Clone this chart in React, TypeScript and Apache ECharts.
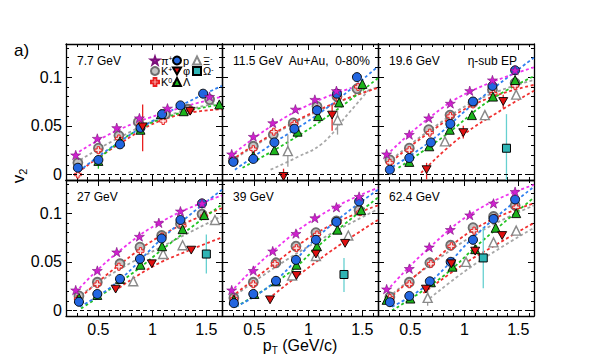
import React, { useEffect, useRef } from 'react';
import * as echarts from 'echarts';

// ---------- data ----------
const energies = ['7.7 GeV', '11.5 GeV', '19.6 GeV', '27 GeV', '39 GeV', '62.4 GeV'];
const panelNotes = ['', 'Au+Au,  0-80%', 'η-sub EP', '', '', ''];
const xMajorTicks = [0.5, 1, 1.5];
const yMajorTicks = [0, 0.05, 0.1];

const piV2 = [
  [[0.29, 0.020], [0.49, 0.037], [0.67, 0.048], [0.88, 0.058], [1.14, 0.068], [1.53, 0.080]],
  [[0.29, 0.021], [0.49, 0.039], [0.67, 0.053], [0.88, 0.067], [1.06, 0.077], [1.26, 0.086]],
  [[0.28, 0.021], [0.49, 0.041], [0.67, 0.058], [0.87, 0.073], [1.05, 0.086], [1.26, 0.097], [1.47, 0.107]],
  [[0.29, 0.021], [0.49, 0.041], [0.67, 0.060], [0.88, 0.076], [1.06, 0.090], [1.26, 0.102], [1.46, 0.110]],
  [[0.29, 0.021], [0.49, 0.041], [0.67, 0.061], [0.885, 0.079], [1.06, 0.095], [1.26, 0.106], [1.47, 0.117]],
  [[0.28, 0.022], [0.49, 0.043], [0.675, 0.065], [0.87, 0.083], [1.05, 0.098], [1.27, 0.110], [1.47, 0.122]],
];
const kPlusV2 = [
  [[0.31, 0.012], [0.50, 0.027], [0.69, 0.040], [0.87, 0.054], [1.12, 0.062], [1.33, 0.067], [1.53, 0.077]],
  [[0.305, 0.014], [0.49, 0.029], [0.675, 0.041], [0.86, 0.053], [1.08, 0.070], [1.265, 0.080], [1.45, 0.088]],
  [[0.31, 0.015], [0.49, 0.027], [0.67, 0.046], [0.867, 0.061], [1.08, 0.074], [1.26, 0.087], [1.47, 0.094]],
  [[0.32, 0.015], [0.49, 0.029], [0.70, 0.048], [0.885, 0.065], [1.086, 0.077], [1.26, 0.089], [1.46, 0.099]],
  [[0.31, 0.013], [0.49, 0.029], [0.70, 0.049], [0.885, 0.066], [1.07, 0.080], [1.26, 0.092], [1.47, 0.103]],
  [[0.31, 0.014], [0.49, 0.029], [0.68, 0.049], [0.873, 0.067], [1.08, 0.085], [1.27, 0.0965], [1.47, 0.108]],
];
const k0sV2 = [
  [[0.31, 0.000], [0.50, 0.025], [0.69, 0.037], [0.89, 0.051], [1.10, 0.055], [1.35, 0.066]],
  [[0.31, 0.013], [0.49, 0.026], [0.68, 0.044], [0.87, 0.052], [1.08, 0.067], [1.27, 0.079], [1.46, 0.090]],
  [[0.31, 0.012], [0.49, 0.025], [0.68, 0.043], [0.87, 0.060], [1.08, 0.072], [1.27, 0.083], [1.47, 0.091]],
  [[0.31, 0.012], [0.49, 0.027], [0.69, 0.045], [0.89, 0.061], [1.09, 0.076], [1.28, 0.087], [1.48, 0.097]],
  [[0.31, 0.012], [0.49, 0.027], [0.69, 0.048], [0.89, 0.064], [1.08, 0.078], [1.27, 0.090], [1.48, 0.101]],
  [[0.31, 0.013], [0.49, 0.027], [0.69, 0.048], [0.88, 0.066], [1.09, 0.082], [1.28, 0.095], [1.48, 0.106]],
];
const protonV2 = [
  [[0.31, 0.007], [0.50, 0.015], [0.70, 0.031], [0.89, 0.048], [1.09, 0.062], [1.26, 0.071], [1.47, 0.083]],
  [[0.305, 0.013], [0.49, 0.016], [0.685, 0.033], [0.87, 0.047], [1.08, 0.066], [1.265, 0.083], [1.45, 0.100]],
  [[0.31, 0.005], [0.49, 0.017], [0.69, 0.033], [0.87, 0.052], [1.08, 0.075], [1.26, 0.091], [1.47, 0.107]],
  [[0.32, 0.009], [0.49, 0.017], [0.70, 0.0325], [0.885, 0.053], [1.086, 0.074], [1.26, 0.093], [1.46, 0.110]],
  [[0.31, 0.0076], [0.49, 0.017], [0.70, 0.0305], [0.885, 0.052], [1.07, 0.0726], [1.26, 0.091], [1.47, 0.112]],
  [[0.31, 0.0086], [0.49, 0.015], [0.68, 0.030], [0.873, 0.050], [1.08, 0.0726], [1.27, 0.094], [1.47, 0.114]],
];
const lambdaV2 = [
  [[0.50, 0.014], [0.70, 0.034], [0.89, 0.046], [1.08, 0.062], [1.29, 0.065], [1.62, 0.072]],
  [[0.49, 0.019], [0.685, 0.025], [0.90, 0.044], [1.09, 0.060], [1.285, 0.074], [1.50, 0.093]],
  [[0.49, 0.013], [0.675, 0.029], [0.865, 0.046], [1.07, 0.061], [1.265, 0.080], [1.47, 0.097]],
  [[0.32, 0.013], [0.49, 0.016], [0.70, 0.0325], [0.89, 0.047], [1.09, 0.066], [1.28, 0.0835], [1.48, 0.098]],
  [[0.31, 0.011], [0.50, 0.017], [0.70, 0.030], [0.89, 0.047], [1.08, 0.066], [1.27, 0.083], [1.49, 0.103]],
  [[0.28, 0.011], [0.50, 0.0123], [0.69, 0.029], [0.89, 0.045], [1.10, 0.063], [1.29, 0.085], [1.48, 0.100]],
];
const phiV2 = [
  [[0.91, 0.049], [1.35, 0.065]],
  [[0.77, -0.002], [1.22, 0.061]],
  [[0.65, 0.005], [0.99, 0.043], [1.36, 0.075]],
  [[0.66, 0.022], [0.995, 0.048], [1.36, 0.062]],
  [[0.645, 0.011], [0.89, 0.036], [1.07, 0.058], [1.34, 0.069]],
  [[0.644, 0.022], [0.88, 0.048], [1.10, 0.061], [1.35, 0.077]],
];
const xiV2 = [
  [],
  [[0.81, 0.024], [1.27, 0.056]],
  [[0.82, 0.034], [1.19, 0.061], [1.48, 0.082]],
  [[0.823, 0.030], [1.10, 0.058], [1.28, 0.067], [1.58, 0.093]],
  [[0.85, 0.036], [1.07, 0.056], [1.37, 0.077]],
  [[0.66, 0.013], [1.015, 0.050], [1.27, 0.070], [1.48, 0.082]],
];
const omegaV2 = [
  [],
  [],
  [[1.39, 0.027]],
  [[1.50, 0.058]],
  [[1.33, 0.037]],
  [[1.175, 0.054]],
];

// error bars: [pT, low, high]
const phiErr = [
  [[0.91, 0.024, 0.072]],
  [[0.77, -0.010, 0.006], [1.22, 0.045, 0.072]],
  [[0.65, -0.005, 0.012], [0.99, 0.037, 0.050], [1.36, 0.068, 0.082]],
  [],
  [],
  [],
];
const xiErr = [
  [],
  [[0.81, 0.008, 0.041], [1.27, 0.041, 0.066]],
  [],
  [],
  [],
  [[0.66, 0.005, 0.020]],
];
const omegaErr = [
  [],
  [],
  [[1.39, -0.010, 0.062]],
  [[1.50, 0.038, 0.078]],
  [[1.33, 0.019, 0.054]],
  [[1.175, 0.023, 0.085]],
];
const lambdaErr = [
  [[0.50, 0.006, 0.020]],
  [],
  [],
  [],
  [],
  [],
];

// fit curves
const fitPi = [
  [[0.28, 0.0205], [0.66, 0.0445], [1.13, 0.064], [1.645, 0.080]],
  [[0.28, 0.019], [0.66, 0.050], [1.05, 0.074], [1.40, 0.089]],
  [[0.28, 0.020], [0.66, 0.057], [1.05, 0.085], [1.645, 0.110]],
  [[0.29, 0.019], [0.66, 0.058], [1.13, 0.094], [1.645, 0.118]],
  [[0.28, 0.019], [0.66, 0.060], [1.13, 0.099], [1.645, 0.126]],
  [[0.28, 0.020], [0.66, 0.063], [1.13, 0.104], [1.645, 0.129]],
];
const fitK = [
  [[0.29, 0.012], [0.66, 0.036], [1.13, 0.060], [1.645, 0.074]],
  [[0.29, 0.014], [0.66, 0.040], [1.13, 0.067], [1.645, 0.090]],
  [[0.29, 0.012], [0.66, 0.044], [1.13, 0.077], [1.645, 0.097]],
  [[0.30, 0.013], [0.66, 0.040], [1.13, 0.068], [1.645, 0.097]],
  [[0.29, 0.013], [0.66, 0.042], [1.13, 0.074], [1.645, 0.104]],
  [[0.30, 0.014], [0.66, 0.045], [1.13, 0.080], [1.645, 0.108]],
];
const fitK0s = [
  [[0.31, 0.002], [0.66, 0.029], [1.13, 0.0575], [1.645, 0.067]],
  [[0.29, 0.015], [0.66, 0.041], [1.13, 0.068], [1.645, 0.089]],
  [[0.29, 0.010], [0.66, 0.042], [1.13, 0.074], [1.645, 0.092]],
  [[0.30, 0.010], [0.66, 0.044], [1.13, 0.080], [1.645, 0.105]],
  [[0.29, 0.014], [0.66, 0.046], [1.13, 0.083], [1.645, 0.108]],
  [[0.30, 0.012], [0.66, 0.046], [1.13, 0.086], [1.645, 0.110]],
];
const fitProton = [
  [[0.32, 0.0034], [0.66, 0.031], [1.13, 0.063], [1.645, 0.091]],
  [[0.32, 0.005], [0.66, 0.031], [1.13, 0.065], [1.645, 0.111]],
  [[0.29, 0.005], [0.66, 0.032], [1.08, 0.072], [1.645, 0.120]],
  [[0.33, 0.004], [0.66, 0.028], [1.13, 0.078], [1.645, 0.124]],
  [[0.33, 0.004], [0.66, 0.027], [1.13, 0.080], [1.645, 0.124]],
  [[0.33, 0.004], [0.66, 0.027], [1.13, 0.080], [1.645, 0.127]],
];
const fitLambda = [
  [[0.48, 0.0137], [0.82, 0.043], [1.22, 0.062], [1.645, 0.072]],
  [[0.39, 0.007], [0.82, 0.034], [1.22, 0.063], [1.645, 0.099]],
  [[0.39, 0.007], [0.82, 0.040], [1.22, 0.075], [1.645, 0.101]],
  [[0.34, 0.002], [0.80, 0.037], [1.13, 0.066], [1.645, 0.109]],
  [[0.33, 0.004], [0.80, 0.037], [1.13, 0.070], [1.645, 0.116]],
  [[0.33, 0.000], [0.80, 0.035], [1.13, 0.068], [1.645, 0.116]],
];
const fitPhi = [
  [],
  [],
  [[0.60, 0.0017], [0.97, 0.039], [1.37, 0.068], [1.645, 0.086]],
  [[0.65, 0.020], [1.00, 0.045], [1.30, 0.060], [1.645, 0.075]],
  [[0.63, 0.012], [1.00, 0.044], [1.30, 0.068], [1.645, 0.093]],
  [[0.62, 0.018], [1.00, 0.048], [1.30, 0.068], [1.645, 0.090]],
];
const fitXi = [
  [],
  [[0.65, 0.005], [0.90, 0.018], [1.13, 0.032], [1.35, 0.060], [1.56, 0.087]],
  [],
  [],
  [],
  [[0.64, 0.009], [1.00, 0.040], [1.30, 0.062], [1.645, 0.085]],
];

// ---------- layout / style ----------
const X_MIN = 0.2;
const X_MAX = 1.645;
const Y_MIN = -0.0056;
const Y_MAX = 0.134;
const GRID_W = 156;
const GRID_H = 136;
const COL_LEFT = [66, 222, 378];
const ROW_TOP = [44, 180];
const FONT = 'Liberation Sans, Arial, Helvetica, sans-serif';

const STAR = 'path://M50,0 L61.8,35.5 L99,35.5 L69,57.5 L80.5,93 L50,71 L19.5,93 L31,57.5 L1,35.5 L38.2,35.5 Z';
const PLUS = 'path://M33,0 L67,0 L67,33 L100,33 L100,67 L67,67 L67,100 L33,100 L33,67 L0,67 L0,33 L33,33 Z';
const DOWN = 'path://M0,0 L100,0 L50,87 Z';

const xMinorTicks: number[] = [];
for (let k = 3; k <= 16; k++) xMinorTicks.push(Math.round(k * 10) / 100);
const yMinorTicks: number[] = [];
for (let k = 0; k <= 13; k++) yMinorTicks.push(Math.round(k * 10) / 1000);

const speciesDefs = [
  { name: 'Ξ-', data: xiV2, symbol: 'triangle', size: 9, color: '#ffffff', border: '#8a8a8a', bw: 1.4 },
  { name: 'Ω-', data: omegaV2, symbol: 'rect', size: 8, color: '#2fb5b5', border: '#000000', bw: 1 },
  { name: 'K+', data: kPlusV2, symbol: 'circle', size: 9, color: '#c4c4c4', border: '#6e6e6e', bw: 1.8 },
  { name: 'K0s', data: k0sV2, symbol: PLUS, size: 7, color: 'rgba(255,235,235,0.85)', border: '#e82020', bw: 1 },
  { name: 'Λ', data: lambdaV2, symbol: 'triangle', size: 9, color: '#1cb41c', border: '#000000', bw: 0.9 },
  { name: 'p', data: protonV2, symbol: 'circle', size: 9, color: '#2266e0', border: '#000000', bw: 0.9 },
  { name: 'φ', data: phiV2, symbol: DOWN, size: 9, color: '#e01010', border: '#000000', bw: 0.9 },
  { name: 'π+', data: piV2, symbol: STAR, size: 10, color: '#d020d0', border: '#7a107a', bw: 0.6 },
];

const fitDefs = [
  { data: fitXi, color: '#a8a8a8' },
  { data: fitK, color: '#a0a0a0' },
  { data: fitPhi, color: '#f03030' },
  { data: fitK0s, color: '#f03030' },
  { data: fitLambda, color: '#22c422' },
  { data: fitProton, color: '#2f7ff0' },
  { data: fitPi, color: '#ee33ee' },
];

const errDefs = [
  { data: lambdaErr, color: '#22c422' },
  { data: xiErr, color: '#9a9a9a' },
  { data: phiErr, color: '#e82020' },
  { data: omegaErr, color: '#66d0d0' },
];

const legendItems = [
  { name: 'π+', label: '{n|π}{sup|+}', col: 0, row: 0 },
  { name: 'K+', label: '{n|K}{sup|+}', col: 0, row: 1 },
  { name: 'K0s', label: '{n|K}{sup|0}{sub|S}', col: 0, row: 2 },
  { name: 'p', label: '{n|p}', col: 1, row: 0 },
  { name: 'φ', label: '{n|φ}', col: 1, row: 1 },
  { name: 'Λ', label: '{n|Λ}', col: 1, row: 2 },
  { name: 'Ξ-', label: '{n|Ξ}{sup|-}', col: 2, row: 0 },
  { name: 'Ω-', label: '{n|Ω}{sup|-}', col: 2, row: 1 },
];
const LEGEND_X = [150, 172, 192];
const LEGEND_Y = [55, 65.5, 76.5];

function buildOption() {
  const grid: any[] = [];
  const xAxis: any[] = [];
  const yAxis: any[] = [];
  const series: any[] = [];
  const graphic: any[] = [];

  const tickStyle = { color: '#000', width: 1 };
  const lineStyle = { color: '#000', width: 1.3 };

  for (let g = 0; g < 6; g++) {
    const col = g % 3;
    const row = Math.floor(g / 3);
    grid.push({ left: COL_LEFT[col], top: ROW_TOP[row], width: GRID_W, height: GRID_H });

    const xb = { type: 'value', gridIndex: g, min: X_MIN, max: X_MAX, splitLine: { show: false } };
    xAxis.push(
      {
        ...xb, position: 'bottom',
        axisLine: { show: true, onZero: false, lineStyle },
        axisTick: { show: true, inside: true, length: 6, customValues: xMajorTicks, lineStyle: tickStyle },
        axisLabel: { show: row === 1, customValues: xMajorTicks, margin: 5, fontSize: 16, color: '#000', fontFamily: FONT },
      },
      {
        ...xb, position: 'bottom',
        axisLine: { show: false, onZero: false },
        axisTick: { show: true, inside: true, length: 3, customValues: xMinorTicks, lineStyle: tickStyle },
        axisLabel: { show: false },
      },
      {
        ...xb, position: 'top',
        axisLine: { show: true, onZero: false, lineStyle },
        axisTick: { show: true, inside: true, length: 6, customValues: xMajorTicks, lineStyle: tickStyle },
        axisLabel: { show: false },
      },
      {
        ...xb, position: 'top',
        axisLine: { show: false, onZero: false },
        axisTick: { show: true, inside: true, length: 3, customValues: xMinorTicks, lineStyle: tickStyle },
        axisLabel: { show: false },
      }
    );
    const yb = { type: 'value', gridIndex: g, min: Y_MIN, max: Y_MAX, splitLine: { show: false } };
    yAxis.push(
      {
        ...yb, position: 'left',
        axisLine: { show: true, onZero: false, lineStyle },
        axisTick: { show: true, inside: true, length: 6, customValues: yMajorTicks, lineStyle: tickStyle },
        axisLabel: { show: col === 0, customValues: yMajorTicks, margin: 4, fontSize: 16, color: '#000', fontFamily: FONT },
      },
      {
        ...yb, position: 'left',
        axisLine: { show: false, onZero: false },
        axisTick: { show: true, inside: true, length: 3, customValues: yMinorTicks, lineStyle: tickStyle },
        axisLabel: { show: false },
      },
      {
        ...yb, position: 'right',
        axisLine: { show: true, onZero: false, lineStyle },
        axisTick: { show: true, inside: true, length: 6, customValues: yMajorTicks, lineStyle: tickStyle },
        axisLabel: { show: false },
      },
      {
        ...yb, position: 'right',
        axisLine: { show: false, onZero: false },
        axisTick: { show: true, inside: true, length: 3, customValues: yMinorTicks, lineStyle: tickStyle },
        axisLabel: { show: false },
      }
    );

    const xi = g * 4;
    const yi = g * 4;

    // zero line
    series.push({
      type: 'line', xAxisIndex: xi, yAxisIndex: yi, data: [], silent: true,
      markLine: {
        silent: true, symbol: ['none', 'none'], label: { show: false },
        lineStyle: { color: '#000', type: [4, 3], width: 1 },
        data: [{ yAxis: 0 }],
      },
    });

    // fit curves
    fitDefs.forEach((f) => {
      if (!f.data[g].length) return;
      series.push({
        type: 'line', xAxisIndex: xi, yAxisIndex: yi, data: f.data[g], smooth: 0.45,
        symbol: 'none', silent: true, z: 2,
        lineStyle: { color: f.color, width: 1.8, type: [3, 2.5] },
      });
    });

    // error bars
    errDefs.forEach((e) => {
      if (!e.data[g].length) return;
      series.push({
        type: 'custom', xAxisIndex: xi, yAxisIndex: yi, data: e.data[g], silent: true, z: 3,
        encode: { x: 0, y: [1, 2] },
        renderItem: (params: any, api: any) => {
          const x = api.value(0);
          const lo = Math.max(api.value(1), Y_MIN);
          const hi = Math.min(api.value(2), Y_MAX);
          const a = api.coord([x, lo]);
          const b = api.coord([x, hi]);
          return {
            type: 'line',
            shape: { x1: a[0], y1: a[1], x2: b[0], y2: b[1] },
            style: { stroke: e.color, lineWidth: 1.3 },
          };
        },
      });
    });

    // markers
    speciesDefs.forEach((s) => {
      if (!s.data[g].length) return;
      series.push({
        type: 'scatter', name: s.name, xAxisIndex: xi, yAxisIndex: yi, data: s.data[g],
        symbol: s.symbol, symbolSize: s.size, symbolKeepAspect: true, z: 4,
        itemStyle: { color: s.color, borderColor: s.border, borderWidth: s.bw, opacity: 1 },
      });
    });

    // panel labels
    const label = panelNotes[g] && g === 1 ? energies[g] + '  ' + panelNotes[g] : energies[g];
    graphic.push({
      type: 'text', x: COL_LEFT[col] + 11, y: ROW_TOP[row] + 17, silent: true,
      style: { text: label, fontSize: 12, fontFamily: FONT, fill: '#000', align: 'left', verticalAlign: 'middle' },
    });
    if (g === 2) {
      graphic.push({
        type: 'text', x: COL_LEFT[col] + GRID_W - 17, y: ROW_TOP[row] + 17, silent: true,
        style: { text: panelNotes[g], fontSize: 12, fontFamily: FONT, fill: '#000', align: 'right', verticalAlign: 'middle' },
      });
    }
  }

  // axis titles
  graphic.push(
    {
      type: 'text', x: 18, y: 176, rotation: Math.PI / 2, silent: true,
      style: {
        text: '{v|v}{s|2}', align: 'center', verticalAlign: 'middle', fill: '#000',
        rich: {
          v: { fontSize: 17, fontFamily: FONT, lineHeight: 20, verticalAlign: 'middle' },
          s: { fontSize: 11, fontFamily: FONT, lineHeight: 20, verticalAlign: 'bottom' },
        },
      },
    },
    {
      type: 'text', x: 300, y: 345, silent: true,
      style: {
        text: '{p|p}{t|T}{p| (GeV/c)}', align: 'center', verticalAlign: 'middle', fill: '#000',
        rich: {
          p: { fontSize: 16, fontFamily: FONT, lineHeight: 20, verticalAlign: 'middle' },
          t: { fontSize: 10, fontFamily: FONT, lineHeight: 20, verticalAlign: 'bottom' },
        },
      },
    },
    {
      type: 'text', x: 14, y: 50, silent: true,
      style: { text: 'a)', fontSize: 17, fontFamily: FONT, fill: '#000', align: 'left', verticalAlign: 'middle' },
    }
  );

  const legend = legendItems.map((it) => ({
    show: true,
    selectedMode: false,
    data: [it.name],
    left: LEGEND_X[it.col],
    top: LEGEND_Y[it.row],
    padding: 0,
    itemWidth: 8,
    itemHeight: 8,
    itemGap: 0,
    formatter: () => it.label,
    textStyle: {
      fontFamily: FONT,
      color: '#000',
      padding: [0, 0, 0, -3],
      rich: {
        n: { fontSize: 11, lineHeight: 11, fontFamily: FONT, verticalAlign: 'middle' },
        sup: { fontSize: 7, lineHeight: 11, fontFamily: FONT, verticalAlign: 'top' },
        sub: { fontSize: 7, lineHeight: 11, fontFamily: FONT, verticalAlign: 'bottom' },
      },
    },
  }));

  return {
    animation: false,
    backgroundColor: '#fff',
    textStyle: { fontFamily: FONT },
    grid,
    xAxis,
    yAxis,
    legend,
    series,
    graphic,
  };
}

export default function App() {
  const ref = useRef<HTMLDivElement>(null);
  useEffect(() => {
    if (!ref.current) return;
    const chart = echarts.init(ref.current, undefined, { renderer: 'svg' });
    chart.setOption(buildOption() as any);
    return () => chart.dispose();
  }, []);
  return <div ref={ref} style={{ position: 'absolute', left: 0, top: 0, width: 600, height: 363 }} />;
}
